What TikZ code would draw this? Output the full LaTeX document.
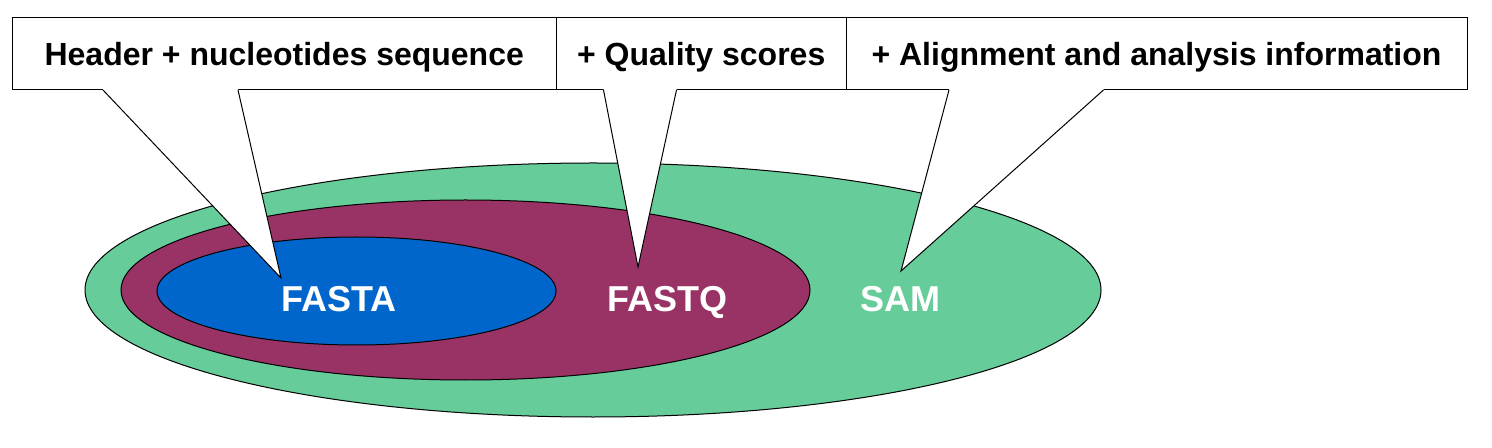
\documentclass[tikz,border=0pt]{standalone}
\usepackage{fontspec}
\setmainfont{Liberation Sans}
\definecolor{samgreen}{RGB}{102,204,153}
\definecolor{fastqred}{RGB}{153,51,102}
\definecolor{fastablue}{RGB}{0,102,204}
\usetikzlibrary{shapes.geometric,calc}

\begin{document}
\begin{tikzpicture}[x=0.5pt,y=-0.5pt,line width=0.5pt,
    every node/.style={inner sep=0pt,outer sep=0pt},
    fmtset/.style={draw,ellipse},
    fmtname/.style={anchor=base,text=white,font=\fontsize{18}{21}\selectfont\bfseries},
    infobox/.style={draw,fill=white,minimum height=36pt,text height=11.5pt,text depth=0pt,
        font=\fontsize{16}{19}\selectfont\bfseries}
    ]
    \useasboundingbox (0,0) rectangle (1492,448);

    % the nested formats
    \node[fmtset,fill=samgreen,minimum width=508pt,minimum height=127pt] (sam) at (593,290) {};
    \node[fmtset,fill=fastqred,minimum width=344.5pt,minimum height=90pt] (fastq) at (465.5,290) {};
    \node[fmtset,fill=fastablue,minimum width=199.5pt,minimum height=54pt] (fasta) at (356.5,291) {};

    \node[fmtname] (fastaname) at (339,312) {FASTA};
    \node[fmtname] (fastqname) at (667,312) {FASTQ};
    \node[fmtname] (samname) at (900,312) {SAM};

    % where the callouts point
    \coordinate (fastatip) at (281,278);
    \coordinate (fastqtip) at (638,267);
    \coordinate (samtip) at (901,271);

    % the callout boxes
    \node[infobox,minimum width=272.25pt] (hdr) at (284.25,54) {Header + nucleotides sequence};
    \node[infobox,minimum width=144.75pt,anchor=west] (qual) at (hdr.east) {+ Quality scores};
    \node[infobox,minimum width=310.5pt,anchor=west] (aln) at (qual.east) {+ Alignment and analysis information};

    % the pointers
    \fill[white] ($(hdr.south west)+(91,-2)$) -- ($(hdr.south west)+(91,0)$) -- (fastatip)
        -- ($(hdr.south west)+(226,0)$) -- ($(hdr.south west)+(226,-2)$) -- cycle;
    \draw ($(hdr.south west)+(91,0)$) -- (fastatip) -- ($(hdr.south west)+(226,0)$);

    \fill[white] ($(qual.south west)+(47,-2)$) -- ($(qual.south west)+(47,0)$) -- (fastqtip)
        -- ($(qual.south west)+(120,0)$) -- ($(qual.south west)+(120,-2)$) -- cycle;
    \draw ($(qual.south west)+(47,0)$) -- (fastqtip) -- ($(qual.south west)+(120,0)$);

    \fill[white] ($(aln.south west)+(103,-2)$) -- ($(aln.south west)+(103,0)$) -- (samtip)
        -- ($(aln.south west)+(257.5,0)$) -- ($(aln.south west)+(257.5,-2)$) -- cycle;
    \draw ($(aln.south west)+(103,0)$) -- (samtip) -- ($(aln.south west)+(257.5,0)$);

\end{tikzpicture}
\end{document}
